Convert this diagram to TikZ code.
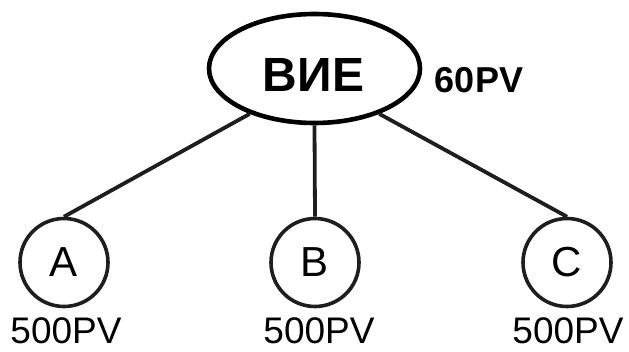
\documentclass[tikz,border=0pt]{standalone}
\usepackage{fontspec}
\setmainfont{Liberation Sans}
\usetikzlibrary{shapes.geometric}
\definecolor{ink}{HTML}{1E1E1E}
\tikzset{
  rootnode/.style={draw=black, ellipse, line width=4.6pt, minimum width=211pt, minimum height=109pt, inner sep=0pt},
  leaf/.style={draw=ink, circle, line width=3.6pt, minimum size=88pt, inner sep=0pt, font=\fontsize{42}{42}\selectfont},
  link/.style={draw=ink, line width=3.8pt},
  pvlabel/.style={anchor=base, inner sep=0pt, font=\fontsize{37}{37}\selectfont},
  boldlabel/.style={anchor=base, inner sep=0pt, font=\bfseries\fontsize{36}{36}\selectfont}
}
\begin{document}
\begin{tikzpicture}[x=1pt,y=1pt]
\useasboundingbox (0,0) rectangle (629,351);
\node[rootnode] (root) at (314.5,282.5) {};
\node[boldlabel, font=\bfseries\fontsize{48}{48}\selectfont] (rootname) at (313.5,259) {ВИЕ};
\node[boldlabel] (rootpv) at (479,258) {60PV};
\node[leaf] (A) at (64,88.5) {A};
\node[leaf] (B) at (315,88.5) {B};
\node[leaf] (C) at (567,88.5) {C};
\node[pvlabel] (Apv) at (66,8) {500PV};
\node[pvlabel] (Bpv) at (319,8) {500PV};
\node[pvlabel] (Cpv) at (568,8) {500PV};
\draw[link] (root.-145) -- (A.north);
\draw[link] (root.south) -- (B.north);
\draw[link] (root.-35) -- (C.north);
\end{tikzpicture}
\end{document}
